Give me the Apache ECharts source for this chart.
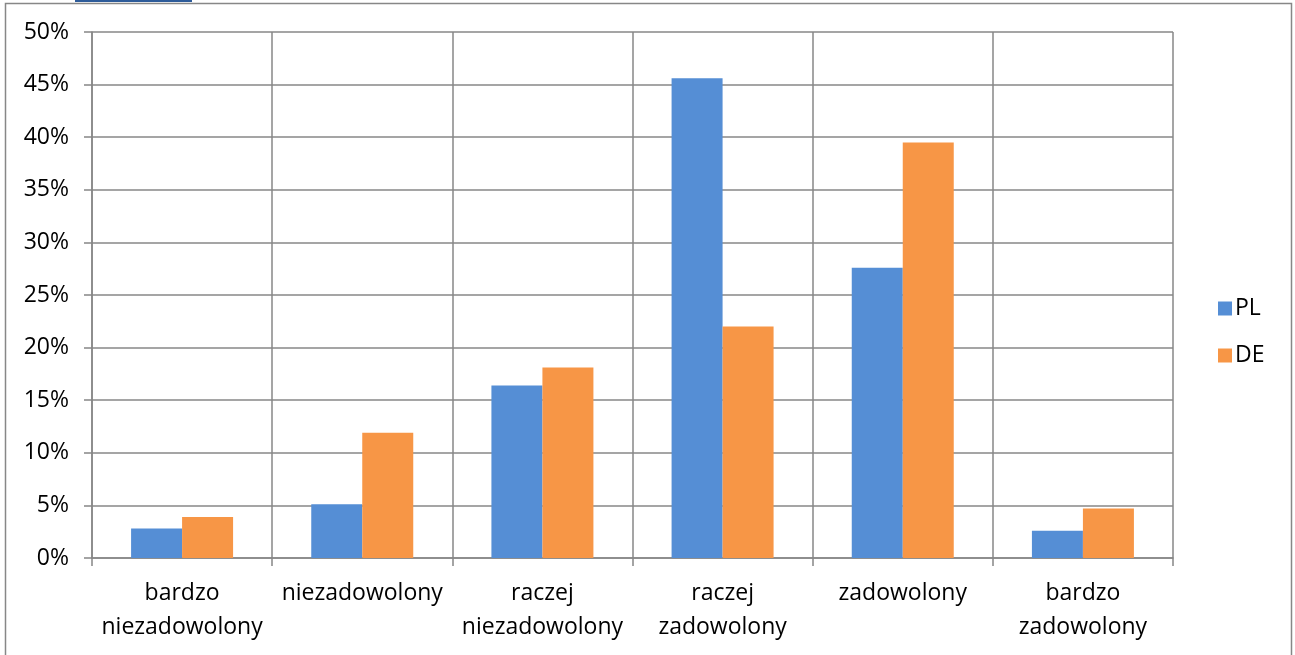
<!DOCTYPE html>
<html><head><meta charset="utf-8">
<script src="https://cdn.jsdelivr.net/npm/echarts@6/dist/echarts.min.js"></script>
<style>html,body{margin:0;padding:0;background:#fff}#c{width:1295px;height:655px}</style>
</head><body><div id="c"></div>
<script>
const categories = ['bardzo\nniezadowolony','niezadowolony','raczej\nniezadowolony','raczej\nzadowolony','zadowolony','bardzo\nzadowolony'];
const plValues = [2.8, 5.1, 16.4, 45.6, 27.6, 2.6];
const deValues = [3.9, 11.9, 18.1, 22.0, 39.5, 4.7];
const seriesNames = ['PL','DE'];
const yTicks = [0,5,10,15,20,25,30,35,40,45,50];

const font = 'Open Sans';
const gray = '#878787';
const chart = echarts.init(document.getElementById('c'), null, {renderer:'canvas'});
chart.setOption({
  animation:false,
  textStyle:{fontFamily:font},
  graphic:[
    {type:'rect', shape:{x:5.5,y:3.5,width:1286,height:700}, style:{fill:null, stroke:gray, lineWidth:1.5}, z:-1},
    {type:'rect', shape:{x:75,y:0,width:117,height:2}, style:{fill:'#2E5C9A'}}
  ],
  grid:{left:92,right:122,top:32,bottom:97,containLabel:false},
  legend:{
    orient:'vertical', left:1213, top:292, itemWidth:14, itemHeight:14, itemGap:24,
    icon:'rect', textStyle:{fontSize:23, color:'#000', fontFamily:font, padding:[0,0,0,-2]},
    data:seriesNames
  },
  xAxis:{
    type:'category', data:categories,
    axisLine:{show:true, lineStyle:{color:gray, width:1.5}},
    axisTick:{show:true, length:8, lineStyle:{color:gray, width:1.5}},
    splitLine:{show:true, lineStyle:{color:gray, width:1.5}},
    axisLabel:{fontSize:23, color:'#000', lineHeight:34, margin:18, interval:0, fontFamily:font}
  },
  yAxis:{
    type:'value', min:0, max:50, interval:5,
    axisLine:{show:true, lineStyle:{color:gray, width:1.5}},
    axisTick:{show:true, length:8, lineStyle:{color:gray, width:1.5}},
    splitLine:{show:true, lineStyle:{color:gray, width:1.5}},
    axisLabel:{fontSize:23, color:'#000', margin:23, fontFamily:font, formatter: v => yTicks.includes(v) ? v + '%' : ''}
  },
  series:[
    {name:seriesNames[0], type:'bar', data:plValues, barWidth:51, barGap:'0%', itemStyle:{color:'#558ED5'}},
    {name:seriesNames[1], type:'bar', data:deValues, barWidth:51, barGap:'0%', itemStyle:{color:'#F79646'}}
  ]
});
</script></body></html>
